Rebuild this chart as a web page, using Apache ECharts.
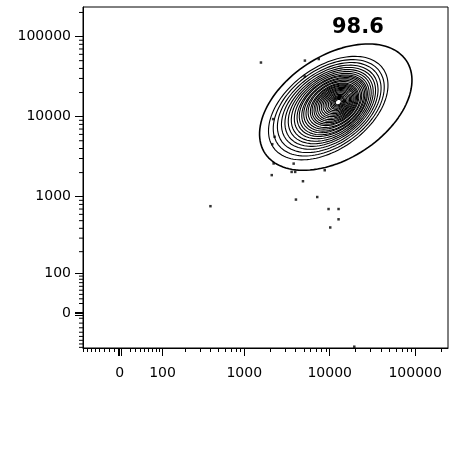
<!DOCTYPE html>
<html>
<head>
<meta charset="utf-8">
<script src="https://cdn.jsdelivr.net/npm/echarts@6/dist/echarts.min.js"></script>
<style>
  html, body { margin: 0; padding: 0; background: #fff; }
  #chart { width: 452px; height: 451px; }
</style>
</head>
<body>
<div id="chart"></div>
<script>
// biexponential-like display (asinh), axis units are decades
const W = 70;
function T(v) { return Math.asinh(v / W) / Math.LN10; }

const xRange = [-81, 242000];
const yRange = [-82, 234000];
const majorTicks = [0, 100, 1000, 10000, 100000];
const zeroTicks = [-3, 3];
const minorTicks = [
  -80, -70, -60, -50, -40, -30, -20, -10,
  20, 30, 40, 50, 60, 70, 80, 90,
  200, 300, 400, 500, 600, 700, 800, 900,
  2000, 3000, 4000, 5000, 6000, 7000, 8000, 9000,
  20000, 30000, 40000, 50000, 60000, 70000, 80000, 90000,
  200000
];

// outer contour: centre (data), semi-axes (decades), tilt (deg)
const outerRing = { cx: 11780, cy: 13150, a: 1.01, b: 0.63, angle: 37 };

// inner contour rings, outermost first
const ringCx = [9620, 9750, 9880, 10020, 10150, 10290, 10430, 10570, 10710, 10860,
  11010, 11100, 11190, 11310, 11400, 11500, 11620, 11710, 11810, 11940,
  12030, 12130, 12260, 12330, 12390, 12460, 12530, 12600, 12600, 12600];
const ringCy = [12780, 12890, 13000, 13120, 13230, 13340, 13460, 13580, 13700, 13820,
  13930, 14010, 14100, 14180, 14260, 14340, 14420, 14510, 14590, 14680,
  14760, 14850, 14930, 14970, 15020, 15060, 15100, 15150, 15190, 15190];
const ringA = [0.81, 0.75, 0.70, 0.65, 0.61, 0.57, 0.535, 0.50, 0.47, 0.445,
  0.42, 0.395, 0.37, 0.345, 0.32, 0.30, 0.28, 0.26, 0.24, 0.22,
  0.20, 0.18, 0.16, 0.14, 0.12, 0.10, 0.085, 0.07, 0.055, 0.04];
const ringB = [0.50, 0.47, 0.44, 0.415, 0.39, 0.37, 0.35, 0.33, 0.31, 0.30,
  0.28, 0.27, 0.25, 0.24, 0.22, 0.21, 0.196, 0.185, 0.17, 0.158,
  0.144, 0.131, 0.118, 0.105, 0.091, 0.077, 0.066, 0.055, 0.044, 0.032];
const ringAngle = 40;

// outlier events outside the contours
const eventsX = [1570, 5130, 7450, 5100, 2180, 2270, 2130, 2210, 2100, 3790, 3590,
  3950, 8750, 4870, 4030, 7150, 9700, 12700, 12700, 10150, 400, 19400];
const eventsY = [47400, 50100, 52400, 31800, 9320, 5600, 4530, 2600, 1860, 2590, 2040,
  2040, 2140, 1560, 920, 990, 700, 700, 520, 410, 760, -78];

const gateLabel = '98.6';

function ringPoints(cx, cy, a, b, angle) {
  const pts = [];
  const th = angle * Math.PI / 180;
  const x0 = T(cx), y0 = T(cy);
  const n = 120;
  for (let k = 0; k <= n; k++) {
    const t = 2 * Math.PI * k / n;
    const u = a * Math.cos(t), v = b * Math.sin(t);
    pts.push([x0 + u * Math.cos(th) - v * Math.sin(th), y0 + u * Math.sin(th) + v * Math.cos(th)]);
  }
  return pts;
}

function labelFor(val) {
  for (const m of majorTicks) {
    if (Math.abs(T(m) - val) < 1e-6) return String(m);
  }
  return '';
}

const labelFont = { fontSize: 14, fontFamily: 'DejaVu Sans', color: '#000' };

function mainAxis(margin, extra) {
  return Object.assign({
    type: 'value',
    axisLine: { show: true, onZero: false, lineStyle: { color: '#000', width: 1 } },
    axisTick: { show: true, length: 8, customValues: majorTicks.concat(zeroTicks).map(T), lineStyle: { color: '#000', width: 1 } },
    axisLabel: Object.assign({ customValues: majorTicks.map(T), formatter: labelFor, margin: margin }, labelFont),
    splitLine: { show: false }
  }, extra);
}

const series = [];
// short minor ticks on the y axis
series.push({
  type: 'custom', coordinateSystem: 'cartesian2d', clip: false,
  data: minorTicks.map(v => [T(xRange[0]), T(v)]),
  renderItem: function (params, api) {
    const p = api.coord([api.value(0), api.value(1)]);
    return { type: 'line', shape: { x1: p[0] - 4, y1: p[1], x2: p[0], y2: p[1] }, style: { stroke: '#000', lineWidth: 1 } };
  }
});
series.push({
  type: 'line', data: ringPoints(outerRing.cx, outerRing.cy, outerRing.a, outerRing.b, outerRing.angle),
  symbol: 'none', lineStyle: { color: '#000', width: 1.6 }
});
for (let i = 0; i < ringA.length; i++) {
  series.push({
    type: 'line', data: ringPoints(ringCx[i], ringCy[i], ringA[i], ringB[i], ringAngle),
    symbol: 'none', lineStyle: { color: '#000', width: 1.1 }
  });
}
series.push({
  type: 'scatter', data: eventsX.map((x, i) => [T(x), T(eventsY[i])]),
  symbol: 'rect', symbolSize: 2.5, itemStyle: { color: '#000' }, z: 5
});

const chart = echarts.init(document.getElementById('chart'));
chart.setOption({
  animation: false,
  grid: {
    left: 83, right: 4, top: 7, bottom: 103,
    show: true, borderColor: '#000', borderWidth: 1,
    outerBoundsMode: 'none'
  },
  xAxis: [
    mainAxis(18, { min: T(xRange[0]), max: T(xRange[1]), position: 'bottom' }),
    {
      type: 'value', min: T(xRange[0]), max: T(xRange[1]), position: 'bottom', offset: 0,
      axisLine: { show: false, onZero: false },
      axisTick: { show: true, length: 4, customValues: minorTicks.map(T), lineStyle: { color: '#000', width: 1 } },
      axisLabel: { show: false },
      splitLine: { show: false }
    }
  ],
  yAxis: [
    mainAxis(12, { min: T(yRange[0]), max: T(yRange[1]), position: 'left' })
  ],
  graphic: [{
    type: 'text', left: 332, top: 17,
    style: { text: gateLabel, font: 'bold 21px "DejaVu Sans"', fill: '#000' }
  }],
  series: series
});
</script>
</body>
</html>
